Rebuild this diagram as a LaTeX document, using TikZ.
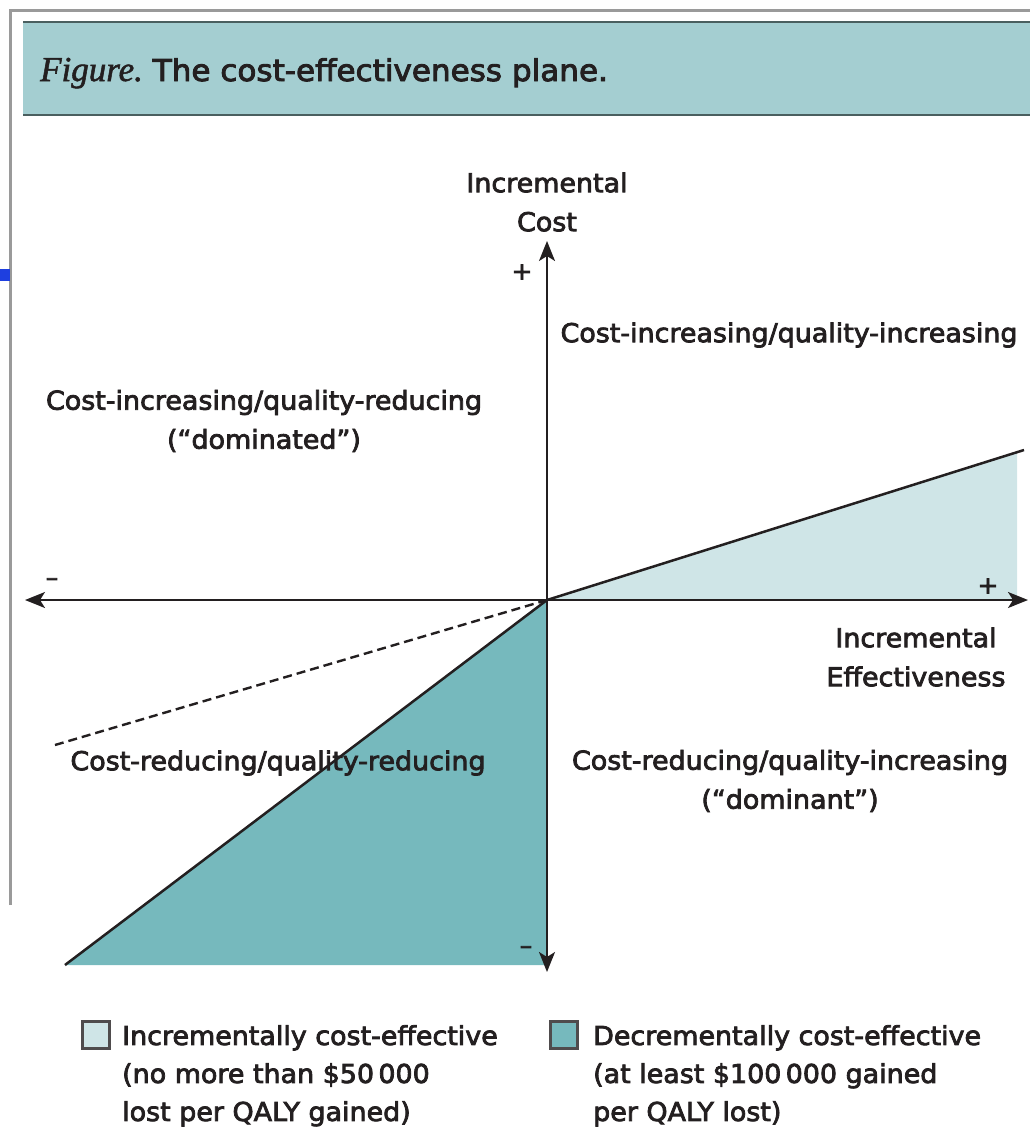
\documentclass[tikz,border=0pt]{standalone}
\usepackage{fontspec}
\setmainfont{DejaVu Sans}[FakeBold=3, FakeStretch=1.035]
\newfontfamily\capserif{Liberation Serif}[FakeBold=1.5]
\usetikzlibrary{arrows.meta}

\definecolor{bandfill}{HTML}{A4CED1}
\definecolor{bandrule}{HTML}{4A5F5F}
\definecolor{lightfill}{HTML}{CFE5E7}
\definecolor{darkfill}{HTML}{76B9BD}
\definecolor{framegray}{HTML}{9A9A9A}
\definecolor{inkc}{HTML}{231F20}
\definecolor{markblue}{HTML}{1E3FE0}

\tikzset{
  lbl/.style={text=inkc, inner sep=0pt, align=center,
    font=\fontsize{26}{39}\selectfont},
  keytxt/.style={text=inkc, inner sep=0pt, align=left, anchor=north west,
    font=\fontsize{26}{38}\selectfont},
  sgn/.style={text=inkc, inner sep=0pt, font=\fontsize{24}{28}\selectfont},
  axis/.style={draw=inkc, line width=1.9pt,
    {Stealth[length=20pt,width=16pt,inset=5pt]}-{Stealth[length=20pt,width=16pt,inset=5pt]}},
  wtp/.style={draw=inkc, line width=2.5pt},
  swatch/.style={draw=inkc!80, line width=2.2pt, minimum size=27pt, inner sep=0pt},
}

\begin{document}
\begin{tikzpicture}[x=1pt, y=-1pt]
  \useasboundingbox (0,0) rectangle (1030,1141);

  % page frame and margin mark
  \draw[framegray, line width=3pt] (10,905) -- (10,10) -- (1030,10);
  \fill[markblue] (0,269) rectangle (10,281);

  % caption band
  \fill[bandfill] (23,22) rectangle (1030,115);
  \draw[bandrule, line width=2.5pt] (23,22) -- (1030,22);
  \draw[bandrule, line width=2.5pt] (23,115) -- (1030,115);
  \node[anchor=base west, inner sep=0pt, text=inkc] (caption) at (40,81)
    {{\capserif\itshape\fontsize{35}{40}\selectfont Figure.}\fontsize{30}{36}\selectfont\ The cost-effectiveness plane.};

  % key points of the plane
  \coordinate (O) at (547,600);
  \coordinate (xL) at (25,600);
  \coordinate (xR) at (1028,600);
  \coordinate (yT) at (547,241);
  \coordinate (yB) at (547,972);
  \coordinate (hiEnd) at (1024,450);
  \coordinate (hiFill) at (1017,452);
  \coordinate (hiBase) at (1017,600);
  \coordinate (loEnd) at (65,965);
  \coordinate (loBase) at (547,965);
  \coordinate (dashEnd) at (55,745);

  % shaded regions
  \fill[lightfill] (O) -- (hiFill) -- (hiBase) -- cycle;
  \fill[darkfill] (O) -- (loEnd) -- (loBase) -- cycle;

  % threshold lines
  \draw[wtp] (O) -- (hiEnd);
  \draw[wtp] (O) -- (loEnd);
  \draw[inkc, line width=2.4pt, dash pattern=on 9pt off 5pt] (O) -- (dashEnd);

  % axes
  \draw[axis] (xL) -- (xR);
  \draw[axis] (yB) -- (yT);

  % axis labels and signs
  \node[lbl] (ylab) at (547,202) {Incremental\\Cost};
  \node[lbl] (xlab) at (916,657) {Incremental\\Effectiveness};
  \node[sgn] (yplus) at (522,272) {+};
  \node[sgn] (yminus) at (526,950) {–};
  \node[sgn] (xplus) at (988,586) {+};
  \node[sgn] (xminus) at (52,582) {–};

  % quadrant labels
  \node[lbl] (q1) at (789,335) {Cost-increasing/quality-increasing};
  \node[lbl] (q2) at (264,421) {Cost-increasing/quality-reducing\\(“dominated”)};
  \node[lbl] (q3) at (278,763) {Cost-reducing/quality-reducing};
  \node[lbl] (q4) at (790,781) {Cost-reducing/quality-increasing\\(“dominant”)};

  % legend
  \node[swatch, fill=lightfill] (keyA) at (96,1035) {};
  \node[keytxt] (keyAtxt) at (122,1025)
    {Incrementally cost-effective\\(no more than \$50\,000\\lost per QALY gained)};
  \node[swatch, fill=darkfill] (keyB) at (564,1035) {};
  \node[keytxt] (keyBtxt) at (593,1025)
    {Decrementally cost-effective\\(at least \$100\,000 gained\\per QALY lost)};
\end{tikzpicture}
\end{document}
